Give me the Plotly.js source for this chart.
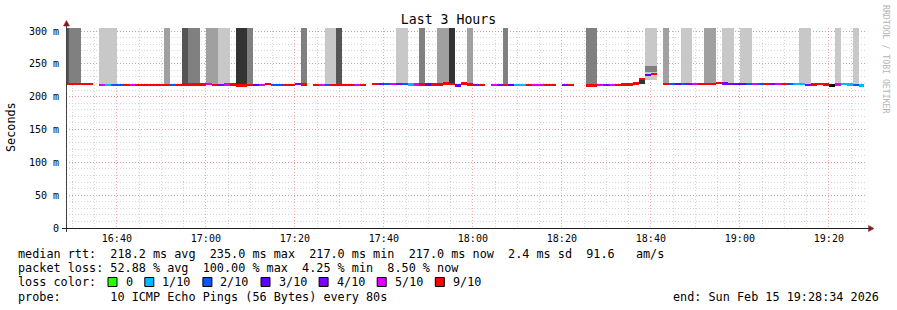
<!DOCTYPE html>
<html><head><meta charset="utf-8">
<script src="https://cdn.plot.ly/plotly-3.0.1.min.js"></script>
<style>html,body{margin:0;padding:0;background:#fff}#chart{width:897px;height:310px}</style>
</head><body><div id="chart"></div>
<script>
// ---------------- DATA ----------------
const titleText = 'Last 3 Hours';
const yTitle = 'Seconds';
const stepSeconds = 80;
const firstStepStart = '2026-02-15T16:28:00Z';
const rangeStart = '2026-02-15 16:28:34';
const rangeEnd = '2026-02-15 19:28:34';
const yTickVals = [0, 50, 100, 150, 200, 250, 300];
const yTickText = ['0', '50 m', '100 m', '150 m', '200 m', '250 m', '300 m'];

// median RTT (ms) per 80 s step, null = no data
const medianMs = [
  219.5,219.5,219.5,219.5,219.5,null,218,218,218,218,
  218,218,218,218,218,218,218,218,218,218,
  218.5,218.5,218.5,218.5,219,218,218,218.5,218.5,217,
  217,218,217.5,217.5,219.5,217.5,217.5,218,218,219,
  218.5,null,217.5,217.5,217.5,217.5,217.5,217.5,217.5,217.5,
  217.5,null,219,219,219,219,219,219,218.5,218.5,
  218.5,218.5,218.5,218.5,220,219,217,220,218.5,218,
  218,null,217.5,217.5,218,218,217.5,217.5,218,217.5,
  217.5,217.5,217.5,null,217.5,217.5,null,null,217,217,
  217.5,217.5,217.5,218,218.5,218.5,220,227,233,235,
  null,219,219,219,219,219,219,219,219,219,
  220.5,220,219,219,219,219,219,219,219,219,
  219,219,219,219,219,217.5,218.5,219.5,218.5,217,
  218.5,219.5,218.5,218,217,null
];
// lost pings out of 10 per step (-1 = unknown)
const lossCount = [
  9,9,9,9,9,null,5,1,2,2,
  9,5,9,9,9,9,9,9,2,9,
  9,9,9,9,5,9,4,5,9,9,
  9,9,3,5,9,2,2,9,9,4,
  9,null,9,5,2,9,9,9,9,5,
  9,null,9,4,2,5,4,2,1,5,
  9,3,9,9,9,9,3,9,9,4,
  9,null,5,4,9,3,1,1,9,5,
  5,9,9,null,4,9,null,null,9,9,
  5,4,5,9,9,9,9,9,3,9,
  null,9,2,3,2,4,5,9,9,9,
  9,4,4,3,3,2,5,2,9,4,
  5,9,2,1,1,4,9,9,9,-1,
  5,1,1,2,1,null
];
// smoke columns: step index, low / high RTT (ms), density shade (1 dark .. 5 light)
const smokeStep  = [0,1,2,6,7,8,17,20,21,22,24,25,26,27,29,30,31,40,44,45,46,56,57,60,63,64,65,68,74,88,89,97,98,98,99,99,101,104,105,108,109,111,112,114,115,124,125,130,133];
const smokeLo    = [219.5,219.5,219.5,218,218,218,218,218.5,218.5,218.5,219,218,218,218.5,217,217,218,218.5,217.5,217.5,217.5,219,219,218.5,218.5,220,219,218.5,218,217,217,219,226,237,226,237,219,219,219,219,219,220,219,219,219,219,217.5,218.5,218];
const smokeHi    = [320,320,320,320,320,320,320,320,320,320,320,320,320,320,320,320,320,320,320,320,320,320,320,320,320,320,320,320,320,320,320,228,320,246.5,320,246.5,320,320,320,320,320,320,320,320,320,320,320,320,320];
const smokeShade = [2,3,3,5,5,5,4,2,3,3,4,4,5,5,1,1,3,3,5,5,2,5,5,3,4,4,1,4,3,3,3,1,5,3,5,3,4,5,5,4,4,5,5,5,5,5,5,5,5];

const legendLossLabels = ['0', '1/10', '2/10', '3/10', '4/10', '5/10', '9/10'];
const legendLossKeys = [0, 1, 2, 3, 4, 5, 9];
const statsRtt = 'median rtt:  218.2 ms avg  235.0 ms max  217.0 ms min  217.0 ms now  2.4 ms sd  91.6   am/s';
const statsLoss = 'packet loss: 52.88 % avg  100.00 % max  4.25 % min  8.50 % now';
const lossRowLabel = 'loss color:';
const probeText = 'probe:       10 ICMP Echo Pings (56 Bytes) every 80s';
const endText = 'end: Sun Feb 15 19:28:34 2026';
const watermark = 'RRDTOOL / TOBI OETIKER';

// ---------------- STYLE ----------------
const lossColor = {0:'#26ff00',1:'#00b8ff',2:'#0059ff',3:'#5e00ff',4:'#7e00ff',5:'#dd00ff',6:'#dd00ff',7:'#dd00ff',8:'#dd00ff',9:'#ff0000',10:'#ff0000','-1':'#000000'};
const shadeColor = {1:'#333333',2:'#555555',3:'#808080',4:'#a0a0a0',5:'#c8c8c8'};
const MONO = 'DejaVu Sans Mono, monospace';
const W = 897, H = 310, L = 66, R = 30, T = 28, B = 82;
const plotW = W - L - R, plotH = H - T - B;
const lineThick = 3.4;
const px2x = x => (x - L) / plotW;
const px2y = y => (H - B - y) / plotH;
const toStr = ms => new Date(ms).toISOString().slice(0, 19).replace('T', ' ');
const t0 = Date.parse(firstStepStart);
const stepCenter = k => toStr(t0 + (k + 0.5) * stepSeconds * 1000);
const barW = stepSeconds * 1000;

const traces = [];
[5, 4, 3, 2, 1].forEach(s => {
  const xs = [], bs = [], ys = [];
  smokeStep.forEach((k, i) => {
    if (smokeShade[i] === s) { xs.push(stepCenter(k)); bs.push(smokeLo[i]); ys.push(smokeHi[i] - smokeLo[i]); }
  });
  if (xs.length) traces.push({type:'bar', x:xs, base:bs, y:ys, width:barW, marker:{color:shadeColor[s], line:{width:0}}, hoverinfo:'skip'});
});
const groups = {};
medianMs.forEach((m, k) => {
  if (m === null) return;
  const c = lossColor[String(lossCount[k])];
  (groups[c] = groups[c] || []).push(k);
});
Object.keys(groups).forEach(c => {
  const ks = groups[c];
  traces.push({type:'bar', x:ks.map(stepCenter), base:ks.map(k => medianMs[k] - lineThick / 2),
    y:ks.map(() => lineThick), width:barW, marker:{color:c, line:{width:0}}, hoverinfo:'skip'});
});

const nb = s => s.replace(/ /g, '\u00A0');
const annotations = [];
const textAnn = (txt, x, y, anchor, size, extra) => Object.assign({
  text: nb(txt), xref:'paper', yref:'paper', x:px2x(x), y:px2y(y), xanchor:anchor, yanchor:'middle',
  showarrow:false, font:{family:MONO, size:size, color:'#000'}}, extra || {});
annotations.push(textAnn(statsRtt, 16, 254, 'left', 11.8));
annotations.push(textAnn(statsLoss, 16, 268, 'left', 11.8));
annotations.push(textAnn(lossRowLabel, 16, 282, 'left', 11.8));
annotations.push(textAnn(probeText, 16, 296.5, 'left', 11.8));
annotations.push(textAnn(endText, 881, 296.5, 'right', 11.8));
annotations.push(textAnn(yTitle, 11, 127, 'center', 11.8, {textangle:-90, yanchor:'middle'}));
annotations.push(textAnn(watermark, 886, 59, 'center', 8.2, {textangle:90, font:{family:MONO, size:8.2, color:'#b4b4b4'}}));

const shapes = [];
// legend boxes
let sx = 108;
legendLossKeys.forEach((key, i) => {
  shapes.push({type:'rect', xref:'paper', yref:'paper', x0:px2x(sx), x1:px2x(sx + 9), y0:px2y(286.5), y1:px2y(277.5),
    fillcolor:lossColor[key], line:{color:'#000', width:1}, layer:'above'});
  annotations.push(textAnn(legendLossLabels[i], sx + 15.5, 282, 'left', 11.8));
  sx = sx + 15.5 + (legendLossLabels[i].length + 2) * 7.1;
});
// axes with arrows
shapes.push({type:'line', xref:'paper', yref:'paper', x0:px2x(66.5), x1:px2x(66.5), y0:px2y(232), y1:px2y(25), line:{color:'#404040', width:1}, layer:'above'});
shapes.push({type:'line', xref:'paper', yref:'paper', x0:px2x(62), x1:px2x(870), y0:px2y(228.5), y1:px2y(228.5), line:{color:'#202020', width:1}, layer:'above'});
shapes.push({type:'path', xref:'paper', yref:'paper', layer:'above', fillcolor:'#7f1f1f', line:{color:'#7f1f1f', width:0.5},
  path:`M ${px2x(66.5)},${px2y(20.5)} L ${px2x(63.5)},${px2y(26)} L ${px2x(69.5)},${px2y(26)} Z`});
shapes.push({type:'path', xref:'paper', yref:'paper', layer:'above', fillcolor:'#7f1f1f', line:{color:'#7f1f1f', width:0.5},
  path:`M ${px2x(874)},${px2y(228.5)} L ${px2x(868.5)},${px2y(225.5)} L ${px2x(868.5)},${px2y(231.5)} Z`});

const majorGrid = 'rgba(236,110,110,0.6)';
const minorGrid = '#d6d6d6';
const layout = {
  width:W, height:H, margin:{l:L, r:R, t:T, b:B, pad:0},
  paper_bgcolor:'#fff', plot_bgcolor:'#fff', showlegend:false, barmode:'overlay', bargap:0,
  title:{text:titleText, font:{family:MONO, size:13.2, color:'#000'}, xref:'container', yref:'container',
    x:0.5, y:1 - 19.5 / H, xanchor:'center', yanchor:'middle'},
  font:{family:MONO, size:10, color:'#000'},
  xaxis:{type:'date', range:[rangeStart, rangeEnd], tick0:'2026-02-15 16:40:00', dtick:20 * 60 * 1000, tickformat:'%H:%M',
    showgrid:true, gridcolor:majorGrid, griddash:'1px,2px', gridwidth:1, zeroline:false, showline:false,
    ticks:'outside', ticklen:1, tickcolor:'rgba(0,0,0,0)', tickfont:{family:MONO, size:10, color:'#000'},
    minor:{dtick:5 * 60 * 1000, tick0:'2026-02-15 16:40:00', showgrid:true, gridcolor:minorGrid, griddash:'1px,2px', gridwidth:1, ticks:''},
    fixedrange:true},
  yaxis:{range:[0, 300 * plotH / 197], tickvals:yTickVals, ticktext:yTickText,
    showgrid:true, gridcolor:majorGrid, griddash:'1px,2px', gridwidth:1, zeroline:false, showline:false,
    ticks:'outside', ticklen:4, tickcolor:'rgba(0,0,0,0)', tickfont:{family:MONO, size:10, color:'#000'},
    minor:{dtick:10, tick0:0, showgrid:true, gridcolor:minorGrid, griddash:'1px,2px', gridwidth:1, ticks:''},
    fixedrange:true},
  shapes:shapes, annotations:annotations
};
Plotly.newPlot('chart', traces, layout, {staticPlot:true, displayModeBar:false});
</script></body></html>
